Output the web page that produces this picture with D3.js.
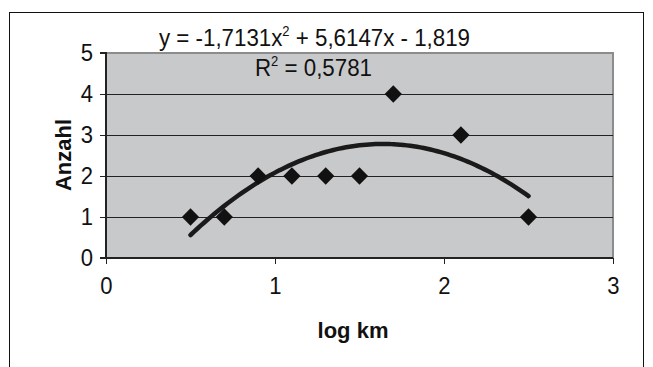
<!DOCTYPE html>
<html>
<head>
<meta charset="utf-8">
<script src="https://cdn.jsdelivr.net/npm/d3@7"></script>
<style>
  body { margin: 0; background: #fff; }
  text { font-family: "Liberation Sans", Arial, sans-serif; fill: #111; }
</style>
</head>
<body>
<div id="chart"></div>
<script>
var xVals = [0.5, 0.7, 0.9, 1.1, 1.3, 1.5, 1.7, 2.1, 2.5];
var yVals = [1, 1, 2, 2, 2, 2, 4, 3, 1];
var xTicks = [0, 1, 2, 3];
var yTicks = [0, 1, 2, 3, 4, 5];
var coef = [-1.7131, 5.6147, -1.819]; // a, b, c
var equationText = ["y = -1,7131x", "2", " + 5,6147x - 1,819"];
var r2Text = ["R", "2", " = 0,5781"];

var width = 653, height = 367;
var pLeft = 106, pRight = 613, pTop = 53, pBottom = 258;
var fs = 24;

var svg = d3.select('#chart').append('svg').attr('width', width).attr('height', height);

// outer frame
svg.append('rect').attr('x', 9.5).attr('y', 12.5).attr('width', 634).attr('height', 400)
  .attr('fill', 'none').attr('stroke', '#111').attr('stroke-width', 1);

var x = d3.scaleLinear().domain([0, 3]).range([pLeft, pRight]);
var y = d3.scaleLinear().domain([0, 5]).range([pBottom, pTop]);

// plot area
svg.append('rect').attr('x', pLeft).attr('y', pTop).attr('width', pRight - pLeft).attr('height', pBottom - pTop)
  .attr('fill', '#c8c9cb').attr('stroke', '#8c8c8c').attr('stroke-width', 2);

// gridlines
svg.append('g').selectAll('line').data(yTicks.filter(function(d) { return d > 0 && d < 5; })).enter()
  .append('line').attr('x1', pLeft).attr('x2', pRight)
  .attr('y1', function(d) { return Math.round(y(d)) + 0.5; }).attr('y2', function(d) { return Math.round(y(d)) + 0.5; })
  .attr('stroke', '#222').attr('stroke-width', 1);

// axes
var yAxis = svg.append('g').attr('transform', 'translate(' + pLeft + ',0)')
  .call(d3.axisLeft(y).tickValues(yTicks).tickSize(6).tickPadding(8).tickFormat(d3.format('d')));
var xAxis = svg.append('g').attr('transform', 'translate(0,' + pBottom + ')')
  .call(d3.axisBottom(x).tickValues(xTicks).tickSize(6).tickPadding(13).tickFormat(d3.format('d')));
[yAxis, xAxis].forEach(function(a) {
  a.select('.domain').attr('stroke', '#222').attr('stroke-width', 2);
  a.selectAll('.tick line').attr('stroke', '#222');
  a.selectAll('.tick text').attr('font-size', fs).attr('fill', '#111')
    .attr('font-family', '"Liberation Sans", Arial, sans-serif')
    .attr('transform', 'scale(0.92,1)');
});
yAxis.select('.domain').attr('d', 'M-6,' + pTop + 'H0V' + pBottom + 'H-6');
xAxis.select('.domain').attr('d', 'M' + pLeft + ',0H' + pRight);

// trendline
var curveX = d3.range(d3.min(xVals), d3.max(xVals) + 0.001, 0.02);
var line = d3.line().x(function(d) { return x(d); })
  .y(function(d) { return y(coef[0] * d * d + coef[1] * d + coef[2]); })
  .curve(d3.curveBasis);
svg.append('path').datum(curveX).attr('d', line).attr('fill', 'none')
  .attr('stroke', '#1a1a1a').attr('stroke-width', 4.5).attr('stroke-linecap', 'round');

// markers
svg.append('g').selectAll('path').data(xVals).enter().append('path')
  .attr('d', d3.symbol().type(d3.symbolDiamond2).size(190))
  .attr('transform', function(d, i) { return 'translate(' + x(d) + ',' + y(yVals[i]) + ')'; })
  .attr('fill', '#111');

// equation labels
function supText(tx, ty, parts) {
  var t = svg.append('g').attr('transform', 'translate(' + tx + ',' + ty + ') scale(0.93,1)')
    .append('text').attr('font-size', fs);
  t.append('tspan').text(parts[0]);
  t.append('tspan').attr('dy', -10).attr('font-size', 14).text(parts[1]);
  t.append('tspan').attr('dy', 10).text(parts[2]);
}
supText(159, 46, equationText);
supText(255, 76, r2Text);

// axis titles
svg.append('text').attr('transform', 'translate(71,155) rotate(-90)').attr('text-anchor', 'middle')
  .attr('font-size', 22).attr('font-weight', 'bold').text('Anzahl');
svg.append('text').attr('x', 353).attr('y', 338).attr('text-anchor', 'middle')
  .attr('font-size', 22).attr('font-weight', 'bold').text('log km');
</script>
</body>
</html>
